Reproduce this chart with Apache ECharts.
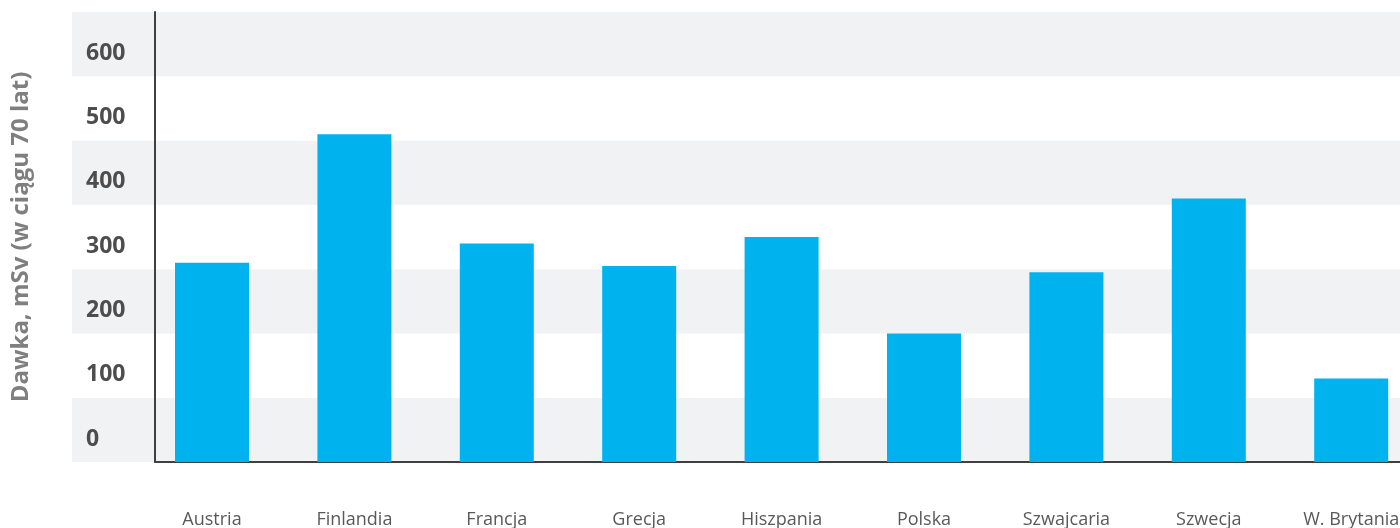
<!DOCTYPE html>
<html>
<head>
<meta charset="utf-8">
<title>Dawka promieniowania w ciągu 70 lat</title>
<script src="https://cdn.jsdelivr.net/npm/echarts@6/dist/echarts.min.js"></script>
<style>
  html, body { margin: 0; padding: 0; background: #ffffff; }
  #chart { width: 1400px; height: 528px; }
</style>
</head>
<body>
<div id="chart"></div>
<script>
// Countries and the dose each receives over 70 years (mSv)
const categories = ['Austria', 'Finlandia', 'Francja', 'Grecja', 'Hiszpania', 'Polska', 'Szwajcaria', 'Szwecja', 'W. Brytania'];
const doses = [310, 510, 340, 305, 350, 200, 295, 410, 130];

// Value axis range and step
const yMin = 0;
const yMax = 700;
const yStep = 100;
const yTitle = 'Dawka, mSv (w ciągu 70 lat)';

const FONT = "'Open Sans', 'Noto Sans', sans-serif";
const TOP = 12;
const BOTTOM = 66;

const chart = echarts.init(document.getElementById('chart'), null, { renderer: 'canvas' });

const hiddenValueAxis = (gridIndex, extra) => Object.assign({
  type: 'value', gridIndex, min: yMin, max: yMax, interval: yStep,
  axisLine: { show: false }, axisTick: { show: false },
  axisLabel: { show: false }, splitLine: { show: false }
}, extra || {});

const gridBase = { top: TOP, bottom: BOTTOM, containLabel: false, outerBoundsMode: 'none' };

chart.setOption({
  animation: false,
  backgroundColor: '#ffffff',
  grid: [
    // striped background
    Object.assign({ left: 72, right: 0 }, gridBase),
    // axis frame
    Object.assign({ left: 155, right: 0 }, gridBase),
    // bars: nine equal category slots, the last one running past the right edge
    Object.assign({ left: 140.8, width: 1281.6 }, gridBase)
  ],
  xAxis: [
    { type: 'value', gridIndex: 0, show: false },
    {
      type: 'value', gridIndex: 1, min: 0, max: 1,
      axisLine: { show: true, onZero: false, lineStyle: { color: '#404040', width: 2 } },
      axisTick: { show: false }, axisLabel: { show: false }, splitLine: { show: false }
    },
    {
      type: 'category', gridIndex: 2, data: categories,
      axisLine: { show: false }, axisTick: { show: false },
      axisLabel: {
        interval: 0, margin: 49, color: '#595959',
        fontFamily: FONT, fontSize: 18
      }
    }
  ],
  yAxis: [
    hiddenValueAxis(0, {
      splitArea: { show: true, areaStyle: { color: ['#f1f2f4', '#ffffff'] } }
    }),
    hiddenValueAxis(1, {
      axisLine: { show: true, lineStyle: { color: '#404040', width: 2 } },
      axisLabel: {
        show: true, showMaxLabel: false, align: 'left', margin: 69,
        verticalAlign: 'bottom', lineHeight: 46,
        color: '#4d4d4d', fontFamily: FONT, fontSize: 23, fontWeight: 'bold'
      },
      name: yTitle, nameLocation: 'middle', nameGap: 122,
      nameTextStyle: { color: '#7f7f7f', fontFamily: FONT, fontSize: 24, fontWeight: 'bold' }
    }),
    hiddenValueAxis(2)
  ],
  series: [{
    type: 'bar',
    xAxisIndex: 2,
    yAxisIndex: 2,
    data: doses,
    barWidth: 74,
    itemStyle: { color: '#00b3ee' }
  }]
});
</script>
</body>
</html>
